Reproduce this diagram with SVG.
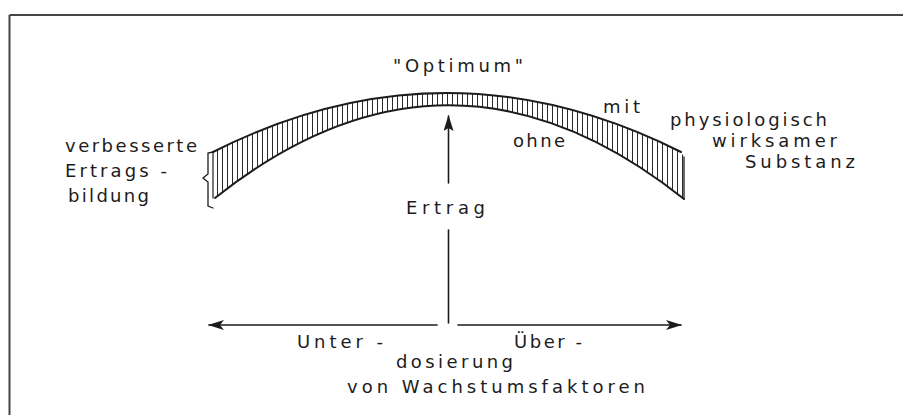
<svg xmlns="http://www.w3.org/2000/svg" width="903" height="415" viewBox="0 0 903 415">
  <style>
    .t { font-family: "DejaVu Sans", "Liberation Sans", sans-serif; font-size: 18px; fill: #1c1c1c; }
    .ln { stroke: #1c1c1c; fill: none; stroke-linecap: round; }
    .frame { stroke: #454545; stroke-width: 2; fill: none; }
  </style>
  <defs>
    <pattern id="hatch" patternUnits="userSpaceOnUse" width="5" height="10">
      <line x1="2.5" y1="0" x2="2.5" y2="10" stroke="#2a2a2a" stroke-width="1"/>
    </pattern>
    <marker id="ahV" viewBox="0 0 16 10" refX="15" refY="5" markerWidth="16" markerHeight="10" markerUnits="userSpaceOnUse" orient="auto">
      <path d="M16,5 L0,0 L3,5 L0,10 Z" fill="#1c1c1c"/>
    </marker>
    <marker id="ahH" viewBox="0 0 16 10" refX="15" refY="5" markerWidth="16" markerHeight="10" markerUnits="userSpaceOnUse" orient="auto">
      <path d="M16,5 L0,0 L4,5 L0,10 Z" fill="#1c1c1c"/>
    </marker>
  </defs>

  <rect width="903" height="415" fill="#ffffff"/>
  <path class="frame" d="M9.5,15 H903 M9.5,15 V415"/>

  <g id="band">
    <path d="M213,152 Q446,34 681,152 L684,157 L684,199 Q449,12 215,198 Z" fill="url(#hatch)"/>
    <path class="ln" stroke-width="2" d="M213,152 Q446,34 681,152"/>
    <path class="ln" stroke-width="2" d="M215,198 Q449,12 684,199"/>
    <path class="ln" stroke-width="1.3" d="M684,157 V199"/>
    <path class="ln" stroke-width="1.2" d="M213,152 V198"/>
  </g>

  <g id="bracket">
    <path class="ln" stroke-width="1.3" d="M213,152 L208,153 L208,174 L203,178 L208,182 L208,206 L213,208"/>
  </g>

  <g id="connectors">
    <path class="ln" stroke-width="1.6" d="M448.5,183 V116" marker-end="url(#ahV)"/>
    <path class="ln" stroke-width="1.6" d="M448.5,230 V323"/>
    <path class="ln" stroke-width="1.6" d="M437,325 H209" marker-end="url(#ahH)"/>
    <path class="ln" stroke-width="1.6" d="M458,325 H681" marker-end="url(#ahH)"/>
  </g>

  <g id="label-optimum"><text class="t" x="393" y="72" textLength="130" lengthAdjust="spacing">"Optimum"</text></g>
  <g id="label-verbesserte">
    <text class="t" x="65" y="152" textLength="132" lengthAdjust="spacing">verbesserte</text>
    <text class="t" x="65" y="177" textLength="102" lengthAdjust="spacing">Ertrags -</text>
    <text class="t" x="68" y="202" textLength="81" lengthAdjust="spacing">bildung</text>
  </g>
  <g id="label-mit"><text class="t" x="603" y="113" textLength="37" lengthAdjust="spacing">mit</text></g>
  <g id="label-ohne"><text class="t" x="513" y="147" textLength="52" lengthAdjust="spacing">ohne</text></g>
  <g id="label-substanz">
    <text class="t" x="670" y="126" textLength="157" lengthAdjust="spacing">physiologisch</text>
    <text class="t" x="712" y="147" textLength="125" lengthAdjust="spacing">wirksamer</text>
    <text class="t" x="745" y="168" textLength="110" lengthAdjust="spacing">Substanz</text>
  </g>
  <g id="label-ertrag"><text class="t" x="406" y="214" textLength="79" lengthAdjust="spacing">Ertrag</text></g>
  <g id="label-dosierung">
    <text class="t" x="297" y="348" textLength="86" lengthAdjust="spacing">Unter -</text>
    <text class="t" x="514" y="348" textLength="68" lengthAdjust="spacing">Über -</text>
    <text class="t" x="396" y="368" textLength="117" lengthAdjust="spacing">dosierung</text>
    <text class="t" x="347" y="393" textLength="298" lengthAdjust="spacing">von Wachstumsfaktoren</text>
  </g>
</svg>
